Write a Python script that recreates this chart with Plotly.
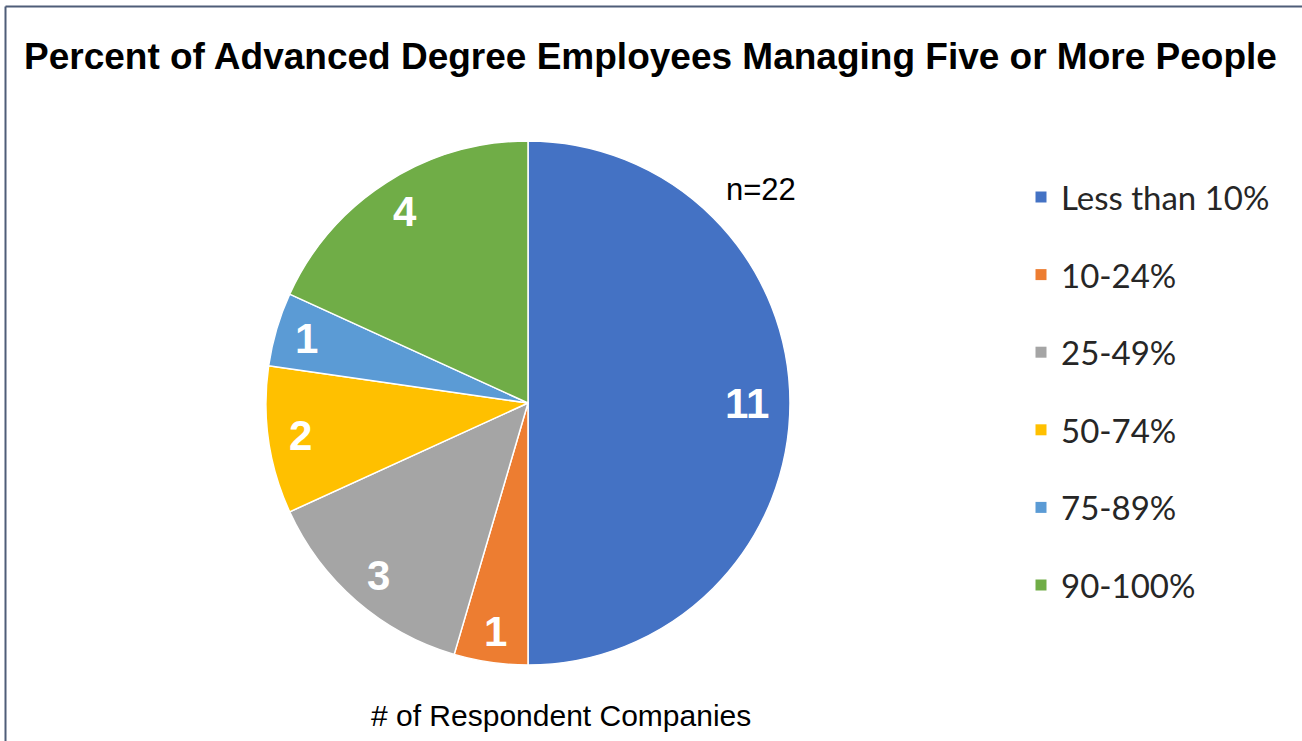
import math
import plotly.graph_objects as go

# Survey responses: number of companies in each band
categories = ["Less than 10%", "10-24%", "25-49%", "50-74%", "75-89%", "90-100%"]
counts = [11, 1, 3, 2, 1, 4]
colors = ["#4472C4", "#ED7D31", "#A5A5A5", "#FFC000", "#5B9BD5", "#70AD47"]

W, H = 1302, 741
cx, cy, r = 528, 403, 262  # pie centre / radius in pixels


def px(x):
    return x / W


def py(y):
    return 1 - y / H


fig = go.Figure(go.Pie(
    labels=categories,
    values=counts,
    sort=False,
    direction="clockwise",
    rotation=0,
    marker=dict(colors=colors, line=dict(color="white", width=1.5)),
    textinfo="none",
    hoverinfo="label+value",
    showlegend=False,
    domain=dict(x=[px(cx - r), px(cx + r)], y=[py(cy + r), py(cy - r)]),
))

annotations = []
# value labels at the middle angle of each slice; narrow slices push the label outward
total = sum(counts)
cum = 0
for v in counts:
    mid = (cum + v / 2) / total * 2 * math.pi
    cum += v
    frac = 0.885 - 0.0045 * v
    lx = cx + frac * r * math.sin(mid)
    ly = cy - frac * r * math.cos(mid)
    annotations.append(dict(
        x=px(lx), y=py(ly), xref="paper", yref="paper",
        xanchor="center", yanchor="middle",
        text=f"<b>{v}</b>", showarrow=False,
        font=dict(family="Liberation Sans, Arial", size=42, color="white"),
    ))

# legend drawn as squares + text
shapes = []
leg_x, leg_y0, leg_dy, sq = 1041, 197, 77.6, 11
for i, (name, col) in enumerate(zip(categories, colors)):
    y = leg_y0 + i * leg_dy
    shapes.append(dict(type="rect", xref="paper", yref="paper",
                       x0=px(leg_x - sq / 2), x1=px(leg_x + sq / 2),
                       y0=py(y + sq / 2), y1=py(y - sq / 2),
                       fillcolor=col, line=dict(width=0)))
    annotations.append(dict(
        x=px(1059), y=py(y), xref="paper", yref="paper",
        text=name, showarrow=False, xanchor="left", yanchor="middle",
        font=dict(family="Lato, Open Sans, sans-serif", size=33, color="#262626"),
    ))

annotations += [
    dict(x=px(650), y=py(57), xref="paper", yref="paper", xanchor="center", yanchor="middle",
         text="<b>Percent of Advanced Degree Employees Managing Five or More People</b>",
         showarrow=False, font=dict(family="Liberation Sans, Arial", size=37, color="black")),
    dict(x=px(761), y=py(190), xref="paper", yref="paper", xanchor="center", yanchor="middle",
         text="n=22", showarrow=False,
         font=dict(family="Liberation Sans Narrow, Arial Narrow, Liberation Sans", size=31, color="black")),
    dict(x=px(561), y=py(715), xref="paper", yref="paper", xanchor="center", yanchor="middle",
         text="# of Respondent Companies", showarrow=False,
         font=dict(family="Liberation Sans Narrow, Arial Narrow, Liberation Sans", size=30, color="black")),
]

# chart frame (top and left edges)
frame = "#4E5D78"
shapes += [
    dict(type="line", xref="paper", yref="paper", x0=px(5.5), x1=1, y0=py(6.5), y1=py(6.5),
         line=dict(color=frame, width=2)),
    dict(type="line", xref="paper", yref="paper", x0=px(5.5), x1=px(5.5), y0=0, y1=py(6.5),
         line=dict(color=frame, width=2)),
]

fig.update_layout(
    width=W, height=H,
    margin=dict(l=0, r=0, t=0, b=0),
    paper_bgcolor="white", plot_bgcolor="white",
    annotations=annotations, shapes=shapes,
)

fig.write_html("out.html")
